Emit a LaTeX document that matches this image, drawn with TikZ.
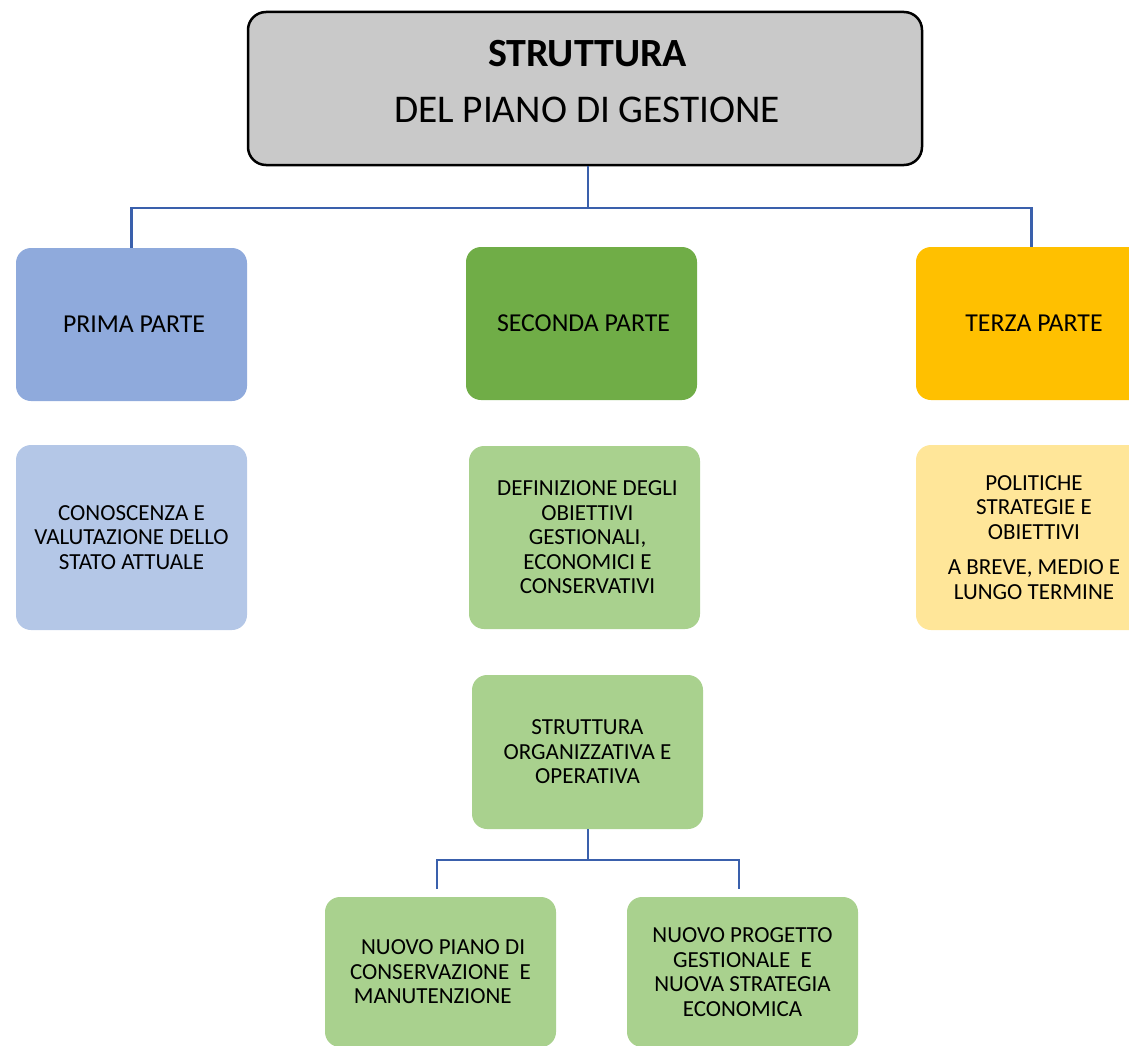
\documentclass[tikz,border=0pt]{standalone}
\usepackage{fontspec}
\setmainfont{Carlito}
\definecolor{topgray}{HTML}{C9C9C9}
\definecolor{primac}{HTML}{8FAADC}
\definecolor{secondac}{HTML}{70AD47}
\definecolor{terzac}{HTML}{FFC000}
\definecolor{primal}{HTML}{B4C7E7}
\definecolor{greenl}{HTML}{A9D18E}
\definecolor{yellowl}{HTML}{FFE699}
\definecolor{linec}{HTML}{3A60AC}
\begin{document}
\begin{tikzpicture}[x=1pt,y=-1pt,
  box/.style={rectangle, rounded corners=15pt, draw=none, minimum width=231pt,
    minimum height=153pt, align=center, inner sep=0pt,
    font=\fontsize{23}{24.5}\selectfont, text=black},
  head/.style={box, font=\fontsize{25.8}{28}\selectfont},
  conn/.style={draw=linec, line width=2.5pt}]
\useasboundingbox (0,0) rectangle (1129,1046);
\clip (0,0) rectangle (1129,1046);

% title box
\node[draw=black, line width=2.5pt, fill=topgray, rounded corners=18pt,
  minimum width=674pt, minimum height=153pt, inner sep=0pt] (top) at (585,88.5) {};
\node[anchor=base, inner sep=0pt, font=\fontsize{40}{44}\selectfont\bfseries] (t1) at (587.5,67) {STRUTTURA};
\node[anchor=base, inner sep=0pt, font=\fontsize{39.3}{44}\selectfont] (t2) at (587,123) {DEL PIANO DI GESTIONE};

% first row
\node[head, fill=primac] (prima) at (131.5,324.5) {\hspace{5pt}PRIMA PARTE};
\node[head, fill=secondac] (seconda) at (581.5,323.5) {\hspace{4pt}SECONDA PARTE};
\node[head, fill=terzac] (terza) at (1031.5,323.5) {\hspace{5pt}TERZA PARTE};

% second row
\node[box, fill=primal, minimum height=185pt] (conosc) at (131.5,537.5)
  {CONOSCENZA E\\VALUTAZIONE DELLO\\STATO ATTUALE};
\node[box, fill=greenl, minimum height=183pt] (defin) at (584.5,537.5)
  {\hspace{6pt}DEFINIZIONE DEGLI\\\hspace{6pt}OBIETTIVI\\\hspace{6pt}GESTIONALI,\\\hspace{6pt}ECONOMICI E\\\hspace{6pt}CONSERVATIVI};
\node[box, fill=yellowl, minimum height=185pt] (polit) at (1031.5,537.5)
  {\hspace{5pt}POLITICHE\\\hspace{5pt}STRATEGIE E\\\hspace{5pt}OBIETTIVI\\[11pt]\hspace{5pt}A BREVE, MEDIO E\\\hspace{5pt}LUNGO TERMINE};

% third row
\node[box, fill=greenl, minimum height=154pt] (org) at (587.5,752)
  {STRUTTURA\\ORGANIZZATIVA E\\OPERATIVA};

% bottom row
\node[box, fill=greenl, minimum height=150pt] (piano) at (440.5,972)
  {\ NUOVO PIANO DI\\CONSERVAZIONE\ \ E\\MANUTENZIONE\ \ \ \ };
\node[box, fill=greenl, minimum height=150pt] (progetto) at (742.5,972)
  {NUOVO PROGETTO\\GESTIONALE\ \ E\\NUOVA STRATEGIA\\ECONOMICA};

% connectors
\coordinate (hub) at (588,208);
\draw[conn] (top.south -| hub) -- (hub);
\draw[conn] (prima.north) |- (hub) -| (terza.north);

\coordinate (hub2) at (588,860);
\coordinate (endl) at (437,889);
\coordinate (endr) at (739,889);
\draw[conn] (org.south -| hub2) -- (hub2);
\draw[conn] (endl) |- (hub2) -| (endr);
\end{tikzpicture}
\end{document}
